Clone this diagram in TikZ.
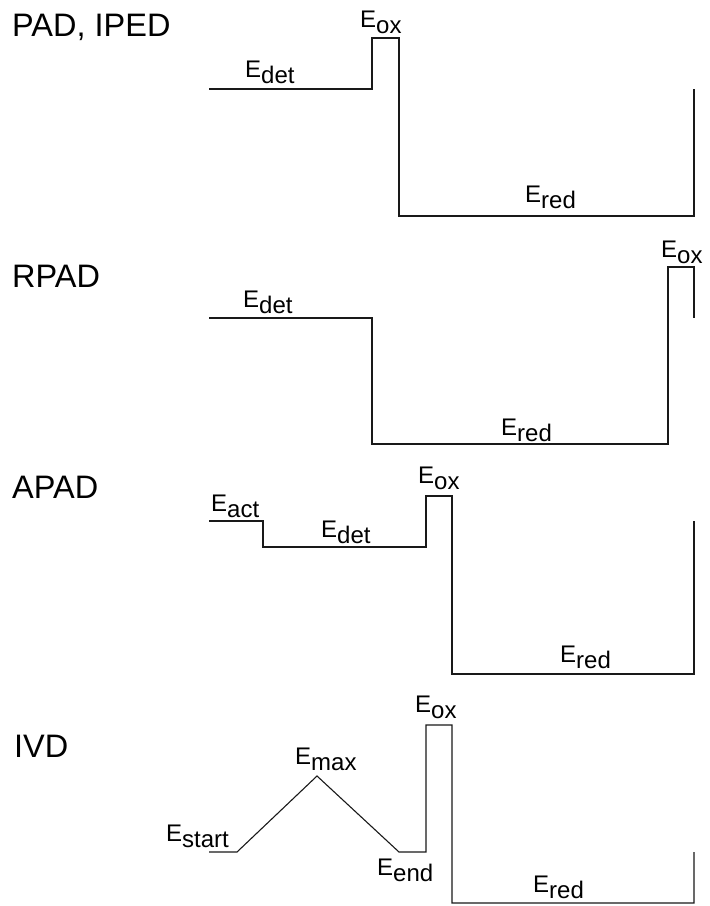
\documentclass[tikz,border=0pt]{standalone}
\usepackage{fontspec}
\setmainfont{Liberation Sans}
\newcommand{\Elab}[1]{E\raisebox{-6bp}{#1}}
\begin{document}
\begin{tikzpicture}[x=1bp,y=-1bp,
  wave/.style={draw=black!90,line width=1.1bp,line join=miter},
  title/.style={anchor=base west,inner sep=0pt,font=\fontsize{32.5bp}{36bp}\selectfont},
  lab/.style={anchor=base west,inner sep=0pt,font=\fontsize{24bp}{28bp}\selectfont}]
\useasboundingbox (0,0) rectangle (710,906);
% Panel 1: PAD, IPED
\node[title] (t1) at (12,36) {PAD, IPED};
\node[lab] (p1det) at (245,77) {\Elab{det}};
\node[lab] (p1ox) at (360,27) {\Elab{ox}};
\node[lab] (p1red) at (525,202) {\Elab{red}};
\draw[wave] (209,89) -- (372,89) -- (372,38) -- (399,38) -- (399,216) -- (694,216) -- (694,89);
% Panel 2: RPAD
\node[title] (t2) at (12,287) {RPAD};
\node[lab] (p2det) at (243,307) {\Elab{det}};
\node[lab] (p2red) at (501,435) {\Elab{red}};
\node[lab] (p2ox) at (661,257) {\Elab{ox}};
\draw[wave] (209,318) -- (372,318) -- (372,444) -- (668,444) -- (668,267) -- (694,267) -- (694,318);
% Panel 3: APAD
\node[title] (t3) at (12,498) {APAD};
\node[lab] (p3act) at (211,511) {\Elab{act}};
\node[lab] (p3det) at (321,537) {\Elab{det}};
\node[lab] (p3ox) at (418,483) {\Elab{ox}};
\node[lab] (p3red) at (560,662) {\Elab{red}};
\draw[wave] (209,521) -- (263,521) -- (263,547) -- (426,547) -- (426,496) -- (452,496) -- (452,674) -- (694,674) -- (694,521);
% Panel 4: IVD
\node[title] (t4) at (14,757) {IVD};
\node[lab] (p4start) at (166,841) {\Elab{start}};
\node[lab] (p4max) at (295,764) {\Elab{max}};
\node[lab] (p4end) at (377,875) {\Elab{end}};
\node[lab] (p4ox) at (415,712) {\Elab{ox}};
\node[lab] (p4red) at (533,892) {\Elab{red}};
\draw[wave] (209,852) -- (237,852) -- (317,776) -- (399,852) -- (426,852) -- (426,725) -- (452,725) -- (452,903) -- (694,903) -- (694,852);
\end{tikzpicture}
\end{document}
